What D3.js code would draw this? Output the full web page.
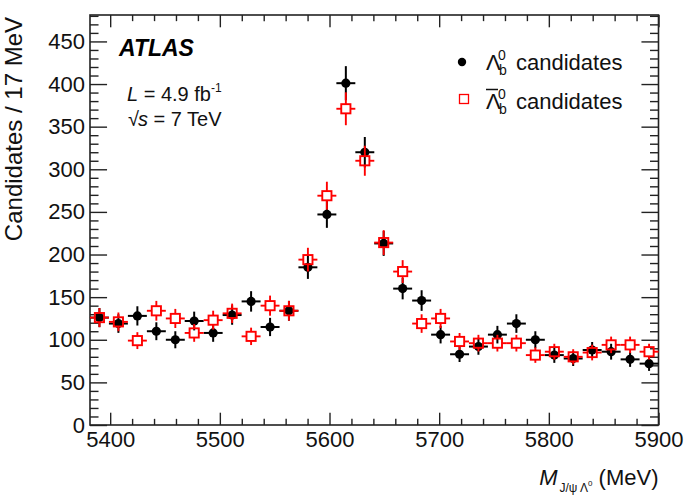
<!DOCTYPE html>
<html>
<head>
<meta charset="utf-8">
<script src="https://cdn.jsdelivr.net/npm/d3@7"></script>
<style>
  body { margin: 0; background: #fff; }
  svg { display: block; font-family: "Liberation Sans", Arial, Helvetica, sans-serif; }
</style>
</head>
<body>
<div id="chart"></div>
<script>
// bin centres (MeV) and candidate counts
const massBins = [5390.2, 5407.5, 5424.8, 5442.1, 5459.4, 5476.6, 5493.9, 5511.2, 5528.5, 5545.8,
                  5563.0, 5580.3, 5597.6, 5614.9, 5632.2, 5649.4, 5666.7, 5684.0, 5701.3, 5718.6,
                  5735.8, 5753.1, 5770.4, 5787.7, 5805.0, 5822.2, 5839.5, 5856.8, 5874.1, 5891.4];
const binHalfWidth = 8.64;

const lambdaB    = [126, 119, 128, 110, 100, 122, 108, 129, 145, 115,
                    134, 185, 247, 401, 320, 213, 160, 146, 106, 83,
                    92, 106, 119, 100, 82, 78, 88, 86, 77, 72];
const lambdaBErr = [11.2, 10.9, 11.3, 10.5, 10.0, 11.0, 10.4, 11.4, 12.0, 10.7,
                    11.6, 13.6, 15.7, 20.0, 17.9, 14.6, 12.6, 12.1, 10.3, 9.1,
                    9.6, 10.3, 10.9, 10.0, 9.1, 8.8, 9.4, 9.3, 8.8, 8.5];

const antiLambdaB    = [126, 121, 99, 134, 125, 108, 123, 131, 104, 140,
                        134, 194, 269, 371, 310, 214, 180, 119, 125, 98,
                        96, 96, 96, 82, 86, 80, 85, 94, 94, 86];
const antiLambdaBErr = [11.2, 11.0, 9.9, 11.6, 11.2, 10.4, 11.1, 11.4, 10.2, 11.8,
                        11.6, 13.9, 16.4, 19.3, 17.6, 14.6, 13.4, 10.9, 11.2, 9.9,
                        9.8, 9.8, 9.8, 9.1, 9.3, 8.9, 9.2, 9.7, 9.7, 9.3];

const xTicks = [5400, 5500, 5600, 5700, 5800, 5900];
const yTicks = [0, 50, 100, 150, 200, 250, 300, 350, 400, 450];

const W = 684, H = 497;
const frame = { left: 90, right: 658.5, top: 15, bottom: 425 };
const FONT = 22;
const RED = '#ff0000';

const svg = d3.select('#chart').append('svg').attr('width', W).attr('height', H);

const x = d3.scaleLinear().domain([5381.6, 5900]).range([frame.left, frame.right]);
const y = d3.scaleLinear().domain([0, 481]).range([frame.bottom, frame.top]);

const xMinor = d3.range(5400, 5901, 20).filter(v => v % 100 !== 0);
const yMinor = d3.range(0, 481, 10).filter(v => v % 50 !== 0);

const innerW = frame.right - frame.left;
const innerH = frame.bottom - frame.top;
const yTickLen = 0.03 * innerW;
const xTickLen = 0.03 * innerH;

function styleAxis(g) {
    g.select('.domain').remove();
    g.selectAll('line').attr('stroke', '#222').attr('stroke-width', 1.4);
    g.attr('font-family', null).attr('font-size', FONT);
    g.selectAll('text').attr('fill', '#111');
}

// left axis (labels) + minor
svg.append('g').attr('transform', `translate(${frame.left},0)`)
    .call(d3.axisLeft(y).tickValues(yTicks).tickSize(-yTickLen).tickPadding(5))
    .call(styleAxis);
svg.append('g').attr('transform', `translate(${frame.left},0)`)
    .call(d3.axisLeft(y).tickValues(yMinor).tickSize(-yTickLen / 2).tickFormat(''))
    .call(styleAxis);
// right axis ticks
svg.append('g').attr('transform', `translate(${frame.right},0)`)
    .call(d3.axisRight(y).tickValues(yTicks).tickSize(-yTickLen).tickFormat(''))
    .call(styleAxis);
svg.append('g').attr('transform', `translate(${frame.right},0)`)
    .call(d3.axisRight(y).tickValues(yMinor).tickSize(-yTickLen / 2).tickFormat(''))
    .call(styleAxis);

// bottom axis (labels) + minor
svg.append('g').attr('transform', `translate(0,${frame.bottom})`)
    .call(d3.axisBottom(x).tickValues(xTicks).tickSize(-xTickLen).tickPadding(6).tickFormat(d3.format('d')))
    .call(styleAxis);
svg.append('g').attr('transform', `translate(0,${frame.bottom})`)
    .call(d3.axisBottom(x).tickValues(xMinor).tickSize(-xTickLen / 2).tickFormat(''))
    .call(styleAxis);
// top axis ticks
svg.append('g').attr('transform', `translate(0,${frame.top})`)
    .call(d3.axisTop(x).tickValues(xTicks).tickSize(-xTickLen).tickFormat(''))
    .call(styleAxis);
svg.append('g').attr('transform', `translate(0,${frame.top})`)
    .call(d3.axisTop(x).tickValues(xMinor).tickSize(-xTickLen / 2).tickFormat(''))
    .call(styleAxis);

svg.append('rect')
    .attr('x', frame.left).attr('y', frame.top)
    .attr('width', innerW).attr('height', innerH)
    .attr('fill', 'none').attr('stroke', '#222').attr('stroke-width', 1.6);

// data
const blackData = massBins.map((m, i) => ({ m, v: lambdaB[i], e: lambdaBErr[i] }));
const redData = massBins.map((m, i) => ({ m, v: antiLambdaB[i], e: antiLambdaBErr[i] }));

const plot = svg.append('g').attr('class', 'points');

// Lambda_b : error bars through a filled circle
const gB = plot.append('g').attr('stroke', '#000').attr('stroke-width', 2);
gB.selectAll('.eh').data(blackData).join('line')
    .attr('x1', d => x(d.m - binHalfWidth)).attr('x2', d => x(d.m + binHalfWidth))
    .attr('y1', d => y(d.v)).attr('y2', d => y(d.v));
gB.selectAll('.ev').data(blackData).join('line')
    .attr('x1', d => x(d.m)).attr('x2', d => x(d.m))
    .attr('y1', d => y(d.v - d.e)).attr('y2', d => y(d.v + d.e));
plot.append('g').selectAll('circle').data(blackData).join('circle')
    .attr('cx', d => x(d.m)).attr('cy', d => y(d.v)).attr('r', 4.6).attr('fill', '#000');

// anti-Lambda_b : open squares, bars stop at the marker
const half = 4.6;
const gR = plot.append('g').attr('stroke', RED).attr('stroke-width', 1.9);
redData.forEach(d => {
    const cx = x(d.m), cy = y(d.v);
    const segs = [
        [x(d.m - binHalfWidth), cy, cx - half, cy],
        [cx + half, cy, x(d.m + binHalfWidth), cy],
        [cx, y(d.v + d.e), cx, cy - half],
        [cx, cy + half, cx, y(d.v - d.e)]
    ];
    segs.forEach(s => {
        if ((s[2] - s[0]) > 0 || (s[3] - s[1]) > 0) {
            gR.append('line').attr('x1', s[0]).attr('y1', s[1]).attr('x2', s[2]).attr('y2', s[3]);
        }
    });
});
plot.append('g').selectAll('rect').data(redData).join('rect')
    .attr('x', d => x(d.m) - half).attr('y', d => y(d.v) - half)
    .attr('width', half * 2).attr('height', half * 2)
    .attr('fill', 'none').attr('stroke', RED).attr('stroke-width', 1.9);

// axis titles
svg.append('text')
    .attr('transform', 'translate(22,17) rotate(-90)')
    .attr('text-anchor', 'end')
    .attr('font-size', 24).attr('fill', '#111')
    .text('Candidates / 17 MeV');

const xt = svg.append('text').attr('x', frame.right).attr('y', 485)
    .attr('text-anchor', 'end').attr('font-size', FONT).attr('fill', '#111');
xt.append('tspan').attr('font-style', 'italic').text('M');
xt.append('tspan').attr('font-size', 12).attr('dy', 7).attr('dx', 2).text('J/\u03C8 \u039B');
xt.append('tspan').attr('font-size', 8).attr('dy', -6).text('0');
xt.append('tspan').attr('dy', -1).text(' (MeV)');

// ATLAS label
svg.append('text').attr('x', 119).attr('y', 55.5)
    .attr('font-size', 23).attr('font-weight', 'bold').attr('font-style', 'italic')
    .attr('fill', '#000').text('ATLAS');

const lumi = svg.append('text').attr('x', 127).attr('y', 101).attr('font-size', 20).attr('fill', '#111');
lumi.append('tspan').attr('font-style', 'italic').text('L');
lumi.append('tspan').text(' = 4.9 fb');
lumi.append('tspan').attr('font-size', 12).attr('dy', -9).text('-1');

const energy = svg.append('text').attr('x', 128).attr('y', 126).attr('font-size', 20).attr('fill', '#111');
energy.append('tspan').text('\u221A');
energy.append('tspan').attr('font-style', 'italic').attr('dx', -1).text('s');
energy.append('tspan').text(' = 7 TeV');

// legend
const leg = svg.append('g').attr('fill', '#111');
leg.append('circle').attr('cx', 462).attr('cy', 62).attr('r', 4.2).attr('fill', '#000');
leg.append('rect').attr('x', 459.5).attr('y', 94.5).attr('width', 9).attr('height', 9)
    .attr('fill', 'none').attr('stroke', RED).attr('stroke-width', 1.3);

function lambdaLabel(g, yBase, bar) {
    g.append('text').attr('x', 486).attr('y', yBase).attr('font-size', FONT).text('\u039B');
    g.append('text').attr('x', 498).attr('y', yBase - 10).attr('font-size', 14).text('0');
    g.append('text').attr('x', 499).attr('y', yBase + 5).attr('font-size', 14).text('b');
    if (bar) {
        g.append('line').attr('x1', 486).attr('x2', 498)
            .attr('y1', yBase - 19).attr('y2', yBase - 19)
            .attr('stroke', '#111').attr('stroke-width', 1.5);
    }
    g.append('text').attr('x', 516).attr('y', yBase).attr('font-size', FONT).text('candidates');
}
lambdaLabel(leg, 69.5, false);
lambdaLabel(leg, 108.5, true);
</script>
</body>
</html>
